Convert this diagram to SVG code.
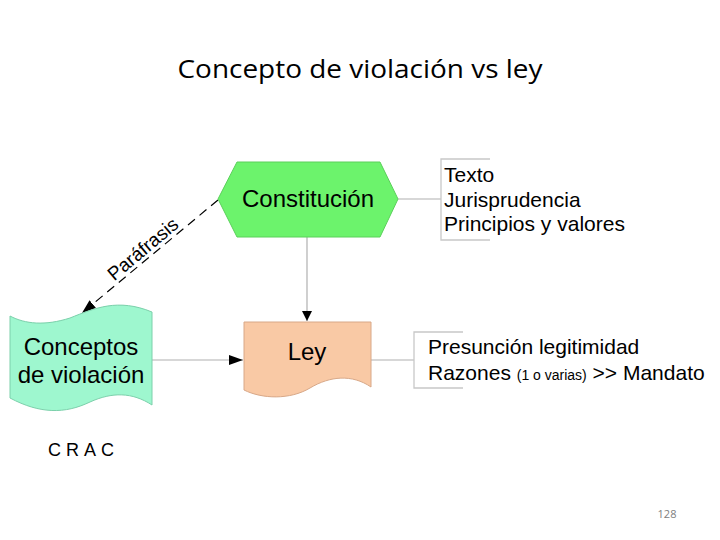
<svg xmlns="http://www.w3.org/2000/svg" width="720" height="540" viewBox="0 0 720 540">
<style>
.t{font-family:"Liberation Sans",Arial,sans-serif;fill:#000}
.node{font-size:24px}
.note{font-size:21px}
.br{fill:none;stroke:#c8c8c8;stroke-width:1.3}
.conn{fill:none;stroke:#b0b0b0;stroke-width:1.2}
</style>
<defs>
<marker id="ah" viewBox="0 0 10 10" refX="10" refY="5" markerWidth="10" markerHeight="10" markerUnits="userSpaceOnUse" orient="auto">
<path d="M0,0 L10,5 L0,10 z" fill="#000"/>
</marker>
<marker id="ah2" viewBox="0 0 14 10" refX="14" refY="5" markerWidth="14" markerHeight="10" markerUnits="userSpaceOnUse" orient="auto">
<path d="M0,0 L14,5 L0,10 z" fill="#000"/>
</marker>
</defs>
<rect width="720" height="540" fill="#fff"/>
<text x="360" y="78" text-anchor="middle" font-family="'Open Sans','Liberation Sans',sans-serif" font-size="25" textLength="365" lengthAdjust="spacingAndGlyphs">Concepto de violación vs ley</text>

<g id="connectors">
<line class="conn" x1="398" y1="199" x2="441" y2="199"/>
<line class="conn" x1="371" y1="360" x2="414" y2="360"/>
<line class="conn" x1="307" y1="237" x2="307" y2="321" marker-end="url(#ah)"/>
<line class="conn" x1="152" y1="360" x2="243" y2="360" marker-end="url(#ah2)"/>
<line x1="218" y1="200" x2="82" y2="313" stroke="#000" stroke-width="1.2" stroke-dasharray="9,6" marker-end="url(#ah2)"/>
<text class="t" font-size="19" transform="translate(147,254) rotate(-40)" text-anchor="middle">Paráfrasis</text>
</g>

<g id="constitucion">
<polygon points="218,199 237,162 380,162 398,199 380,237 237,237" fill="#6cf36c" stroke="#5ad05a" stroke-width="1"/>
<text class="t node" x="308" y="207" text-anchor="middle">Constitución</text>
</g>

<g id="constitucion-note">
<path class="br" d="M490,159 H441 V240 H490"/>
<text class="t note" x="444" y="182">Texto</text>
<text class="t note" x="444" y="207">Jurisprudencia</text>
<text class="t note" x="444" y="231">Principios y valores</text>
</g>

<g id="ley">
<path d="M244,322 H371 V387 C352,374 330,376 310,388 C290,400 262,399 244,390 Z" fill="#f9c9a5" stroke="#d8a888" stroke-width="1"/>
<text class="t node" x="307" y="360" text-anchor="middle">Ley</text>
</g>

<g id="ley-note">
<path class="br" d="M463,332 H414 V388 H463"/>
<text class="t note" x="428" y="354">Presunción legitimidad</text>
<text class="t note" x="428" y="380">Razones <tspan font-size="14">(1 o varias)</tspan> &gt;&gt; Mandato</text>
</g>

<g id="conceptos">
<path d="M10,316 C25,324 45,326 70,318 C95,308 118,298 152,312 V405 C132,392 112,392 90,402 C65,414 40,414 10,398 Z" fill="#9ef7cf" stroke="#7cd0ab" stroke-width="1"/>
<text class="t node" x="81" y="355" text-anchor="middle">Conceptos</text>
<text class="t node" x="81" y="383" text-anchor="middle">de violación</text>
</g>

<text class="t" x="48" y="456" font-size="18" letter-spacing="5">CRAC</text>
<text x="667" y="518" text-anchor="middle" font-family="'Open Sans','Liberation Sans',sans-serif" font-size="11" fill="#808080">128</text>
</svg>
